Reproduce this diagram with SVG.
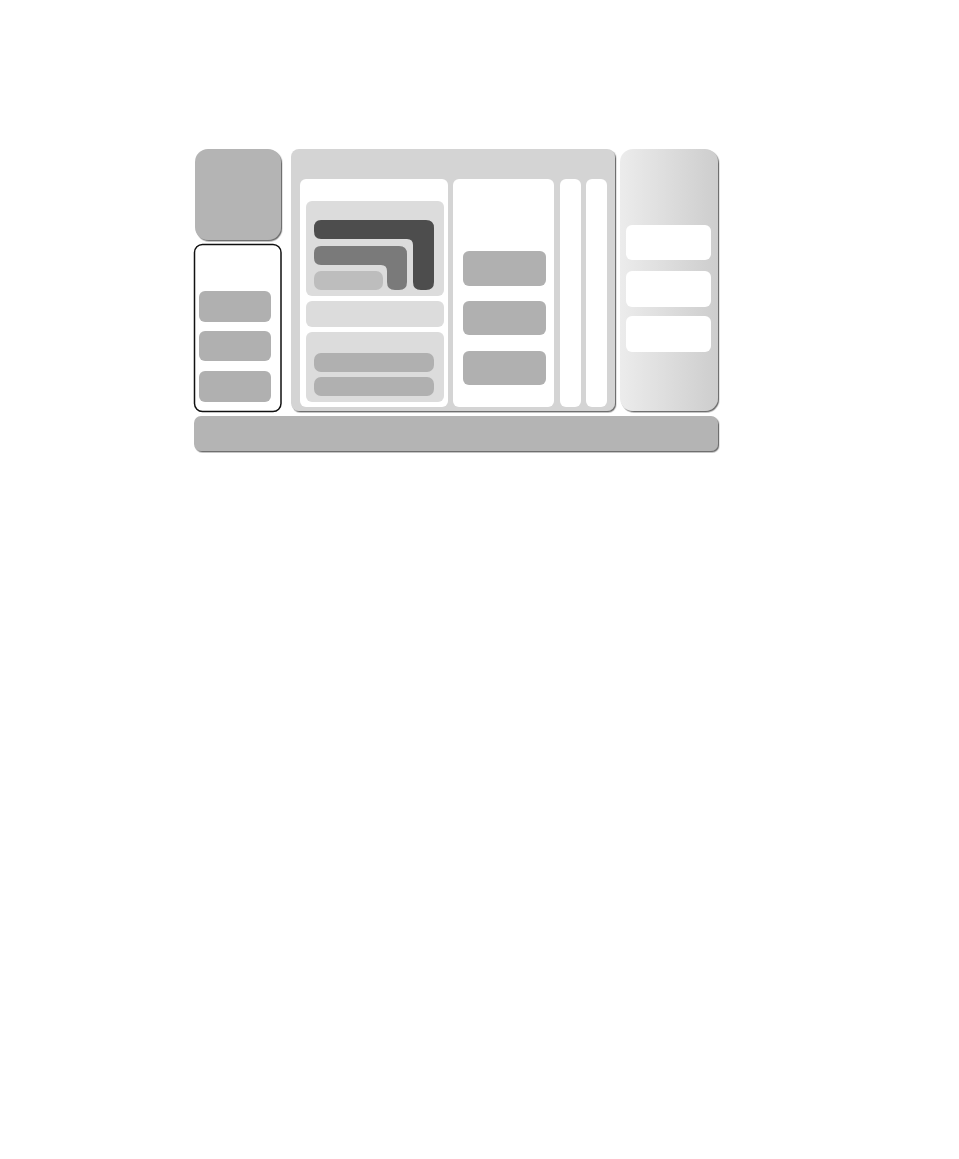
<svg xmlns="http://www.w3.org/2000/svg" width="959" height="1159" viewBox="0 0 959 1159">
<defs>
<filter id="sh" x="-5%" y="-5%" width="110%" height="110%">
<feDropShadow dx="1.2" dy="1.4" stdDeviation="0.6" flood-color="#555" flood-opacity="0.85"/>
</filter>
<linearGradient id="rg" x1="0" y1="0" x2="1" y2="0">
<stop offset="0" stop-color="#ececec"/>
<stop offset="1" stop-color="#cdcdcd"/>
</linearGradient>
</defs>
<style>
.g1{fill:#b4b4b4}
.w{fill:#ffffff}
.lg{fill:#dcdcdc}
.btn{fill:#b0b0b0}
</style>
<rect width="959" height="1159" fill="#ffffff"/>
<g id="bottom-bar"><rect x="194" y="416" width="524" height="35" rx="7" class="g1" filter="url(#sh)"/></g>
<g id="top-left-box"><rect x="195" y="149" width="86" height="91" rx="13" class="g1" filter="url(#sh)"/></g>
<g id="left-panel">
<rect x="194.5" y="244.5" width="86.5" height="167" rx="8" fill="#ffffff" stroke="#111" stroke-width="1.5"/>
<rect x="199" y="291" width="72" height="31" rx="6" class="btn"/>
<rect x="199" y="331" width="72" height="30" rx="6" class="btn"/>
<rect x="199" y="371" width="72" height="31" rx="6" class="btn"/>
</g>
<g id="main-panel">
<rect x="291" y="149" width="324" height="262" rx="8" fill="#d4d4d4" filter="url(#sh)"/>
<g id="col1">
<rect x="300" y="179" width="148" height="228" rx="6" class="w"/>
<rect x="306" y="201" width="138" height="95" rx="6" class="lg"/>
<path d="M321 220 H426 Q434 220 434 228 V282 Q434 290 426 290 H421 Q413 290 413 282 V245 Q413 239 407 239 H321 Q314 239 314 231 V228 Q314 220 321 220 Z" fill="#4d4d4d"/>
<path d="M321 246 H399 Q407 246 407 254 V282 Q407 290 399 290 H395 Q387 290 387 282 V271 Q387 265 381 265 H321 Q314 265 314 258 V253 Q314 246 321 246 Z" fill="#7a7a7a"/>
<rect x="314" y="271" width="69" height="19" rx="7" fill="#bdbdbd"/>
<rect x="306" y="301" width="138" height="26" rx="6" class="lg"/>
<rect x="306" y="332" width="138" height="70" rx="6" class="lg"/>
<rect x="314" y="353" width="120" height="19" rx="7" class="btn"/>
<rect x="314" y="377" width="120" height="19" rx="7" class="btn"/>
</g>
<g id="col2">
<rect x="453" y="179" width="101" height="228" rx="6" class="w"/>
<rect x="463" y="251" width="83" height="35" rx="6" class="btn"/>
<rect x="463" y="301" width="83" height="34" rx="6" class="btn"/>
<rect x="463" y="351" width="83" height="34" rx="6" class="btn"/>
</g>
<g id="col3"><rect x="560" y="179" width="21" height="228" rx="6" class="w"/></g>
<g id="col4"><rect x="586" y="179" width="21" height="228" rx="6" class="w"/></g>
</g>
<g id="right-panel">
<rect x="620" y="149" width="98" height="262" rx="13" fill="url(#rg)" filter="url(#sh)"/>
<rect x="626" y="225" width="85" height="35" rx="6" class="w"/>
<rect x="626" y="271" width="85" height="36" rx="6" class="w"/>
<rect x="626" y="316" width="85" height="36" rx="6" class="w"/>
</g>
<g id="connectors"></g>
</svg>
